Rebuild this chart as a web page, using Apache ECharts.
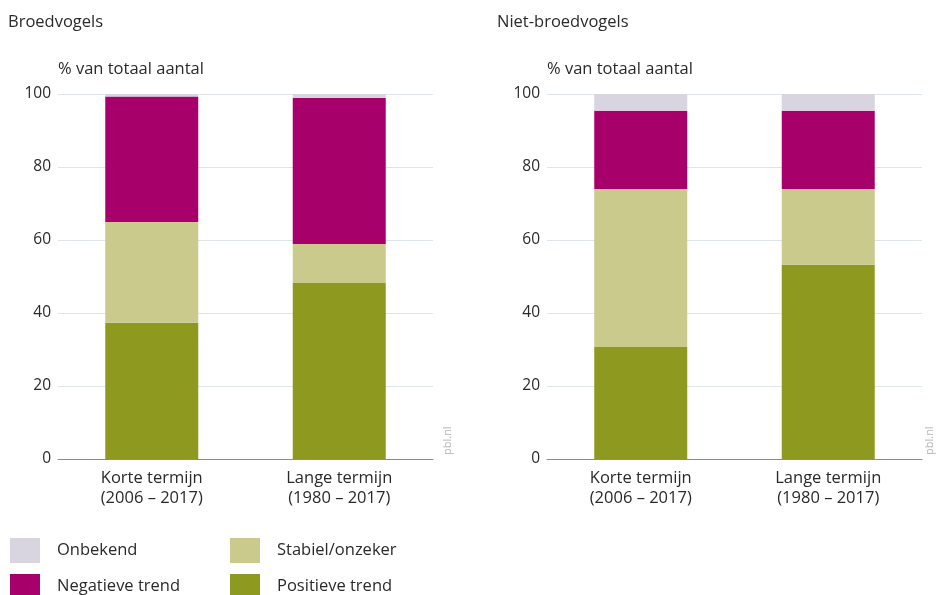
<!DOCTYPE html>
<html>
<head>
<meta charset="utf-8">
<script src="https://cdn.jsdelivr.net/npm/echarts@6/dist/echarts.min.js"></script>
<style>
html,body{margin:0;padding:0;background:#fff;}
#chart{width:939px;height:595px;}
</style>
</head>
<body>
<div id="chart"></div>
<script>
// ---- data ----
var categories = ['Korte termijn\n(2006 – 2017)', 'Lange termijn\n(1980 – 2017)'];
var seriesNames = ['Positieve trend', 'Stabiel/onzeker', 'Negatieve trend', 'Onbekend'];
var yTicks = [0, 20, 40, 60, 80, 100];

// Broedvogels
var broedPositief = [37.3, 48.2];
var broedStabiel = [27.6, 10.7];
var broedNegatief = [34.4, 40.0];
var broedOnbekend = [0.7, 1.1];

// Niet-broedvogels
var nietPositief = [30.7, 53.2];
var nietStabiel = [43.3, 20.8];
var nietNegatief = [21.4, 21.4];
var nietOnbekend = [4.6, 4.6];

var legendItems = ['Onbekend', 'Stabiel/onzeker', 'Negatieve trend', 'Positieve trend'];

var colors = {
  'Positieve trend': '#8e9a1f',
  'Stabiel/onzeker': '#c9ca8c',
  'Negatieve trend': '#a8006a',
  'Onbekend': '#d8d5e0'
};

var chart = echarts.init(document.getElementById('chart'), null, {renderer: 'canvas'});
var fontFam = '"Open Sans", Lato, sans-serif';
var textCol = '#2a2a2a';

function xAxis(idx) {
  return {
    type: 'category', gridIndex: idx, data: categories,
    axisTick: {show: false},
    axisLine: {show: true, lineStyle: {color: '#8c8c8c', width: 1}},
    axisLabel: {color: textCol, fontSize: 16.5, fontFamily: fontFam, lineHeight: 20, margin: 9}
  };
}
function yAxis(idx) {
  return {
    type: 'value', gridIndex: idx, min: 0, max: 100, interval: 20,
    name: '% van totaal aantal', nameLocation: 'end', nameGap: 16,
    nameTextStyle: {color: textCol, fontSize: 16.5, fontFamily: fontFam, align: 'left', padding: [0, 0, 0, 0]},
    axisLine: {show: false}, axisTick: {show: false},
    axisLabel: {color: textCol, fontSize: 15.5, fontFamily: fontFam, margin: 7,
      formatter: function (v) { return yTicks.indexOf(v) >= 0 ? String(v) : ''; }},
    splitLine: {show: true, lineStyle: {color: '#dfe5ec', width: 1}}
  };
}
function makeSeries(idx, arrs) {
  return seriesNames.map(function (name, i) {
    return {
      name: name, type: 'bar', stack: 'g' + idx,
      xAxisIndex: idx, yAxisIndex: idx,
      barWidth: 93,
      itemStyle: {color: colors[name]},
      emphasis: {disabled: true},
      data: arrs[i]
    };
  });
}
var legendPos = [[10, 538], [230, 538], [10, 574], [230, 574]];
function legendItem(name, i) {
  return {
    data: [name], left: legendPos[i][0], top: legendPos[i][1],
    icon: 'rect', itemWidth: 30, itemHeight: 25, selectedMode: false,
    padding: 0,
    textStyle: {color: textCol, fontSize: 16.5, fontFamily: fontFam, padding: [0, 0, 0, 12]}
  };
}

var option = {
  backgroundColor: '#ffffff',
  animation: false,
  title: [
    {text: 'Broedvogels', left: 3, top: 9, textStyle: {color: textCol, fontSize: 16.5, fontWeight: 'normal', fontFamily: fontFam}},
    {text: 'Niet-broedvogels', left: 492, top: 9, textStyle: {color: textCol, fontSize: 16.5, fontWeight: 'normal', fontFamily: fontFam}}
  ],
  grid: [
    {left: 58, width: 375, top: 94, height: 365},
    {left: 547, width: 375, top: 94, height: 365}
  ],
  xAxis: [xAxis(0), xAxis(1)],
  yAxis: [yAxis(0), yAxis(1)],
  legend: legendItems.map(legendItem),
  graphic: [
    {type: 'text', x: 442, y: 455, rotation: Math.PI / 2,
     style: {text: 'pbl.nl', fill: '#b5b5b5', font: '11px ' + fontFam}},
    {type: 'text', x: 924, y: 455, rotation: Math.PI / 2,
     style: {text: 'pbl.nl', fill: '#b5b5b5', font: '11px ' + fontFam}}
  ],
  series: makeSeries(0, [broedPositief, broedStabiel, broedNegatief, broedOnbekend])
    .concat(makeSeries(1, [nietPositief, nietStabiel, nietNegatief, nietOnbekend]))
};
chart.setOption(option);
</script>
</body>
</html>
